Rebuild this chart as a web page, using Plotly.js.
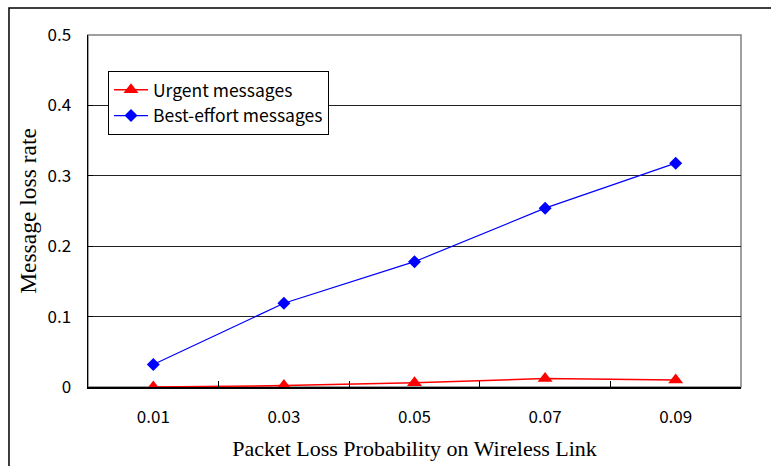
<!DOCTYPE html>
<html>
<head>
<meta charset="utf-8">
<script src="https://cdn.plot.ly/plotly-3.0.1.min.js"></script>
<style>html,body{margin:0;padding:0;background:#fff;}#chart{width:771px;height:466px;}</style>
</head>
<body>
<div id="chart"></div>
<script>
const categories = ["0.01", "0.03", "0.05", "0.07", "0.09"];
const urgentValues = [0.000, 0.002, 0.006, 0.012, 0.010];
const bestEffortValues = [0.032, 0.119, 0.178, 0.254, 0.318];
const yTickValues = [0, 0.1, 0.2, 0.3, 0.4, 0.5];
const yTickLabels = ["0", "0.1", "0.2", "0.3", "0.4", "0.5"];

const sans = '"Noto Sans CJK JP", "Liberation Sans", sans-serif';
const serif = '"Liberation Serif", "DejaVu Serif", serif';

const traces = [
  {
    x: categories, y: urgentValues, name: "Urgent messages",
    type: "scatter", mode: "lines+markers",
    line: {color: "#ff0000", width: 1.5},
    marker: {symbol: "triangle-up", size: 13, color: "#ff0000"}
  },
  {
    x: categories, y: bestEffortValues, name: "Best-effort messages",
    type: "scatter", mode: "lines+markers",
    line: {color: "#0000ff", width: 1.2},
    marker: {symbol: "diamond", size: 10, color: "#0000ff"}
  }
];

const layout = {
  width: 771, height: 466,
  margin: {l: 88, r: 30, t: 35, b: 79, pad: 0},
  paper_bgcolor: "#fff", plot_bgcolor: "#fff",
  font: {family: sans, size: 17, color: "#000"},
  showlegend: true,
  legend: {
    x: 0.0306, y: 0.898, xanchor: "left", yanchor: "top",
    bgcolor: "#fff", bordercolor: "#000", borderwidth: 1,
    font: {family: sans, size: 17.5, color: "#000"},
    tracegroupgap: 0, itemwidth: 34
  },
  xaxis: {
    type: "category", range: [-0.5, 4.5],
    tickson: "boundaries", ticks: "inside", ticklen: 6, tickcolor: "#000",
    showline: true, linecolor: "#000", linewidth: 1.5,
    showgrid: false, zeroline: false,
    tickfont: {family: sans, size: 17, color: "#000"},
    ticklabelstandoff: 14,
    title: {text: "Packet Loss Probability on Wireless Link", font: {family: serif, size: 22, color: "#000"}, standoff: 13}
  },
  yaxis: {
    range: [0, 0.5], tickvals: yTickValues, ticktext: yTickLabels,
    ticks: "inside", ticklen: 5, tickcolor: "#000",
    showline: true, linecolor: "#000", linewidth: 1.5,
    showgrid: true, gridcolor: "#222", gridwidth: 1.2, zeroline: false,
    tickfont: {family: sans, size: 17, color: "#000"},
    ticklabelstandoff: 12,
    title: {text: "Message loss rate", font: {family: serif, size: 23.5, color: "#000"}, standoff: 4}
  },
  shapes: [
    {type: "rect", xref: "paper", yref: "paper", x0: 0, x1: 1, y0: 0, y1: 1,
     line: {color: "#808080", width: 1.5}, layer: "below"},
    {type: "rect", xref: "paper", yref: "paper", x0: -0.121, x1: 1.06, y0: -0.25, y1: 1.0767,
     line: {color: "#000", width: 1.5}, layer: "below"}
  ]
};

Plotly.newPlot("chart", traces, layout, {displayModeBar: false, staticPlot: true});
</script>
</body>
</html>
